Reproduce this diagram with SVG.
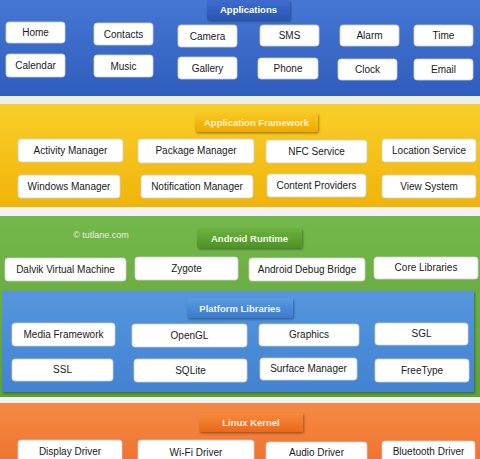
<svg xmlns="http://www.w3.org/2000/svg" width="480" height="459" viewBox="0 0 480 459">
<defs>
<linearGradient id="gBlue" x1="0" y1="0" x2="0" y2="1"><stop offset="0" stop-color="#4677d4"/><stop offset="1" stop-color="#2f5dbd"/></linearGradient>
<linearGradient id="gYellow" x1="0" y1="0" x2="0" y2="1"><stop offset="0" stop-color="#f9cf2a"/><stop offset="1" stop-color="#f0b409"/></linearGradient>
<linearGradient id="gGreen" x1="0" y1="0" x2="0" y2="1"><stop offset="0" stop-color="#74b84b"/><stop offset="1" stop-color="#5fa23a"/></linearGradient>
<linearGradient id="gPlat" x1="0" y1="0" x2="0" y2="1"><stop offset="0" stop-color="#5596de"/><stop offset="1" stop-color="#4282d0"/></linearGradient>
<linearGradient id="gOrange" x1="0" y1="0" x2="0" y2="1"><stop offset="0" stop-color="#f58a45"/><stop offset="1" stop-color="#ef7530"/></linearGradient>
<linearGradient id="tBlue" x1="0" y1="0" x2="0" y2="1"><stop offset="0" stop-color="#3d6cd0"/><stop offset="1" stop-color="#2a55b2"/></linearGradient>
<linearGradient id="tYellow" x1="0" y1="0" x2="0" y2="1"><stop offset="0" stop-color="#f9c820"/><stop offset="1" stop-color="#eea800"/></linearGradient>
<linearGradient id="tGreen" x1="0" y1="0" x2="0" y2="1"><stop offset="0" stop-color="#6cb33f"/><stop offset="1" stop-color="#4f9226"/></linearGradient>
<linearGradient id="tPlat" x1="0" y1="0" x2="0" y2="1"><stop offset="0" stop-color="#5a9be2"/><stop offset="1" stop-color="#3c7bc9"/></linearGradient>
<linearGradient id="tOrange" x1="0" y1="0" x2="0" y2="1"><stop offset="0" stop-color="#f78a3a"/><stop offset="1" stop-color="#e8691c"/></linearGradient>
<filter id="sh" x="-10%" y="-20%" width="130%" height="160%"><feDropShadow dx="1" dy="1.5" stdDeviation="1" flood-color="#000" flood-opacity="0.35"/></filter>
</defs>
<style>
.box{fill:#ffffff;stroke:#cfcfcf;stroke-width:0.8}
.lbl{font-family:"Liberation Sans",Arial,sans-serif;font-size:10px;fill:#1a1a1a;text-anchor:middle}
.tab{font-family:"Liberation Sans",Arial,sans-serif;font-size:9.5px;font-weight:bold;text-anchor:middle}
</style>
<rect x="0" y="0" width="480" height="459" fill="#ffffff"/>
<g id="bands">
<rect x="0" y="0" width="480" height="96" fill="url(#gBlue)"/>
<rect x="0" y="96" width="480" height="8" fill="#eeeeee"/>
<rect x="0" y="104" width="480" height="103" fill="url(#gYellow)"/>
<rect x="0" y="207" width="480" height="9" fill="#f2f2ee"/>
<rect x="0" y="216" width="480" height="181" fill="url(#gGreen)"/>
<rect x="2" y="291" width="472" height="101" fill="url(#gPlat)" filter="url(#sh)"/>
<rect x="0" y="397" width="480" height="6" fill="#f2f2f2"/>
<rect x="0" y="403" width="480" height="56" fill="url(#gOrange)"/>
<text x="101" y="238" font-family="Liberation Sans,Arial,sans-serif" font-size="9px" fill="#e6f2dc" text-anchor="middle">© tutlane.com</text>
</g>
<g id="tab-applications"><rect x="207" y="0" width="83" height="20" rx="2" fill="url(#tBlue)" filter="url(#sh)"/><text class="tab" x="248.5" y="13" fill="#ffffff">Applications</text></g>
<g id="tab-framework"><rect x="195" y="113" width="123" height="19" rx="2" fill="url(#tYellow)" filter="url(#sh)"/><text class="tab" x="256.5" y="125.5" fill="#fff4c4">Application Framework</text></g>
<g id="tab-runtime"><rect x="197" y="228" width="105" height="20" rx="2" fill="url(#tGreen)" filter="url(#sh)"/><text class="tab" x="249.5" y="241.5" fill="#f2ffe8">Android Runtime</text></g>
<g id="tab-platform"><rect x="187" y="298" width="106" height="20" rx="2" fill="url(#tPlat)" filter="url(#sh)"/><text class="tab" x="240" y="311.5" fill="#eaf6ff">Platform Libraries</text></g>
<g id="tab-kernel"><rect x="199" y="413" width="104" height="19" rx="2" fill="url(#tOrange)" filter="url(#sh)"/><text class="tab" x="251" y="426" fill="#fff0e0">Linux Kernel</text></g>

<g id="home"><rect class="box" x="6" y="22" width="59" height="21" rx="3"/><text class="lbl" x="35.5" y="36">Home</text></g>
<g id="contacts"><rect class="box" x="94" y="23" width="59" height="22" rx="3"/><text class="lbl" x="123.5" y="37.5">Contacts</text></g>
<g id="camera"><rect class="box" x="178" y="25" width="59" height="22" rx="3"/><text class="lbl" x="207.5" y="39.5">Camera</text></g>
<g id="sms"><rect class="box" x="260" y="25" width="59" height="21" rx="3"/><text class="lbl" x="289.5" y="39">SMS</text></g>
<g id="alarm"><rect class="box" x="340" y="25" width="59" height="21" rx="3"/><text class="lbl" x="369.5" y="39">Alarm</text></g>
<g id="time"><rect class="box" x="414" y="25" width="59" height="21" rx="3"/><text class="lbl" x="443.5" y="39">Time</text></g>
<g id="calendar"><rect class="box" x="6" y="54" width="59" height="23" rx="3"/><text class="lbl" x="35.5" y="68.5">Calendar</text></g>
<g id="music"><rect class="box" x="94" y="55" width="59" height="22" rx="3"/><text class="lbl" x="123.5" y="69.5">Music</text></g>
<g id="gallery"><rect class="box" x="178" y="57" width="59" height="22" rx="3"/><text class="lbl" x="207.5" y="71.5">Gallery</text></g>
<g id="phone"><rect class="box" x="258" y="58" width="60" height="21" rx="3"/><text class="lbl" x="288" y="72">Phone</text></g>
<g id="clock"><rect class="box" x="338" y="59" width="59" height="21" rx="3"/><text class="lbl" x="367.5" y="73">Clock</text></g>
<g id="email"><rect class="box" x="414" y="59" width="59" height="21" rx="3"/><text class="lbl" x="443.5" y="73">Email</text></g>

<g id="activity-manager"><rect class="box" x="18" y="139" width="105" height="23" rx="3"/><text class="lbl" x="70.5" y="153.5">Activity Manager</text></g>
<g id="package-manager"><rect class="box" x="138" y="139" width="116" height="24" rx="3"/><text class="lbl" x="196" y="154">Package Manager</text></g>
<g id="nfc-service"><rect class="box" x="266" y="140" width="101" height="23" rx="3"/><text class="lbl" x="316.5" y="154.5">NFC Service</text></g>
<g id="location-service"><rect class="box" x="382" y="139" width="94" height="23" rx="3"/><text class="lbl" x="429" y="153.5">Location Service</text></g>
<g id="windows-manager"><rect class="box" x="18" y="175" width="102" height="23" rx="3"/><text class="lbl" x="69" y="189.5">Windows Manager</text></g>
<g id="notification-manager"><rect class="box" x="141" y="175" width="112" height="23" rx="3"/><text class="lbl" x="197" y="189.5">Notification Manager</text></g>
<g id="content-providers"><rect class="box" x="267" y="174" width="99" height="23" rx="3"/><text class="lbl" x="316.5" y="188.5">Content Providers</text></g>
<g id="view-system"><rect class="box" x="382" y="175" width="94" height="23" rx="3"/><text class="lbl" x="429" y="189.5">View System</text></g>

<g id="dalvik"><rect class="box" x="5" y="258" width="121" height="23" rx="3"/><text class="lbl" x="65.5" y="272.5">Dalvik Virtual Machine</text></g>
<g id="zygote"><rect class="box" x="135" y="257" width="103" height="23" rx="3"/><text class="lbl" x="186.5" y="271.5">Zygote</text></g>
<g id="adb"><rect class="box" x="249" y="258" width="116" height="23" rx="3"/><text class="lbl" x="307" y="272.5">Android Debug Bridge</text></g>
<g id="core-libraries"><rect class="box" x="374" y="257" width="104" height="22" rx="3"/><text class="lbl" x="426" y="271">Core Libraries</text></g>

<g id="media-framework"><rect class="box" x="12" y="323" width="103" height="23" rx="3"/><text class="lbl" x="63.5" y="337.5">Media Framework</text></g>
<g id="opengl"><rect class="box" x="132" y="324" width="115" height="23" rx="3"/><text class="lbl" x="189.5" y="338.5">OpenGL</text></g>
<g id="graphics"><rect class="box" x="259" y="324" width="100" height="22" rx="3"/><text class="lbl" x="309" y="338">Graphics</text></g>
<g id="sgl"><rect class="box" x="375" y="323" width="93" height="22" rx="3"/><text class="lbl" x="421.5" y="337">SGL</text></g>
<g id="ssl"><rect class="box" x="12" y="359" width="101" height="22" rx="3"/><text class="lbl" x="62.5" y="373">SSL</text></g>
<g id="sqlite"><rect class="box" x="134" y="359" width="113" height="23" rx="3"/><text class="lbl" x="190.5" y="373.5">SQLite</text></g>
<g id="surface-manager"><rect class="box" x="260" y="358" width="97" height="22" rx="3"/><text class="lbl" x="308.5" y="372">Surface Manager</text></g>
<g id="freetype"><rect class="box" x="375" y="359" width="94" height="23" rx="3"/><text class="lbl" x="422" y="373.5">FreeType</text></g>

<g id="display-driver"><rect class="box" x="18" y="440" width="104" height="25" rx="3"/><text class="lbl" x="70" y="455">Display Driver</text></g>
<g id="wifi-driver"><rect class="box" x="138" y="440" width="116" height="25" rx="3"/><text class="lbl" x="196" y="455.5">Wi-Fi Driver</text></g>
<g id="audio-driver"><rect class="box" x="266" y="442" width="101" height="25" rx="3"/><text class="lbl" x="316.5" y="456">Audio Driver</text></g>
<g id="bluetooth-driver"><rect class="box" x="382" y="441" width="93" height="25" rx="3"/><text class="lbl" x="428.5" y="454.5">Bluetooth Driver</text></g>
<g id="connectors"/>
</svg>
